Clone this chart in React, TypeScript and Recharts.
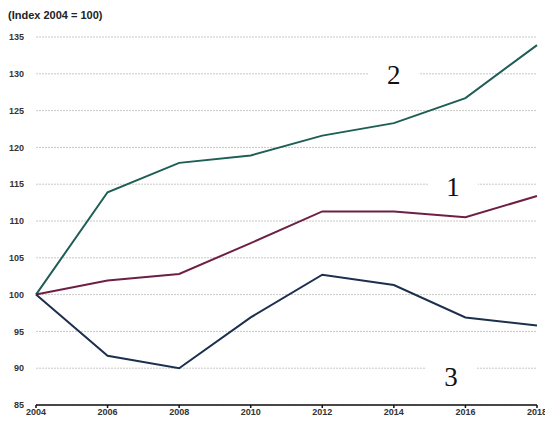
import { LineChart, Line, XAxis, YAxis, CartesianGrid, ReferenceDot } from 'recharts'

const YEARS = [2004, 2006, 2008, 2010, 2012, 2014, 2016, 2018]
const SERIES_1 = [100, 101.9, 102.8, 107.0, 111.3, 111.3, 110.5, 113.4]
const SERIES_2 = [100, 113.9, 117.9, 118.9, 121.6, 123.3, 126.7, 133.9]
const SERIES_3 = [100, 91.7, 90.0, 96.9, 102.7, 101.3, 96.9, 95.8]
const Y_TICKS = [85, 90, 95, 100, 105, 110, 115, 120, 125, 130, 135]

// curve numbers written on the chart
const NOTE_TEXT = ['2', '1', '3']
const NOTE_X = [2014.0, 2015.65, 2015.6]
const NOTE_Y = [129.9, 114.6, 88.8]

const TEAL   = '#1e5e57'
const MAROON = '#6e1f45'
const NAVY   = '#1c2f4f'

const tickStyle = { fontSize: 9, fill: '#333', fontFamily: 'Arial, "Liberation Sans", sans-serif', fontWeight: 700 }

const data = YEARS.map((y, i) => ({ y, s1: SERIES_1[i], s2: SERIES_2[i], s3: SERIES_3[i] }))

function Note({ cx, cy, text }: { cx?: number; cy?: number; text: string }) {
  if (cx == null || cy == null) return null
  return (
    <g>
      <rect x={cx - 25} y={cy - 14} width={50} height={28} fill="#fff" />
      <text x={cx} y={cy} textAnchor="middle" dominantBaseline="central"
        fontFamily='"Liberation Serif", "Times New Roman", serif' fontSize={27} fill="#111">
        {text}
      </text>
    </g>
  )
}

export default function App() {
  return (
    <div style={{ position: 'absolute', left: 0, top: 0, width: 545, height: 421, background: '#fff' }}>
      <div style={{ position: 'absolute', left: 8, top: 9, fontFamily: 'Arial, "Liberation Sans", sans-serif',
        fontSize: 11, fontWeight: 700, color: '#222' }}>
        (Index 2004 = 100)
      </div>
      <LineChart width={545} height={421} data={data} margin={{ top: 37, right: 8, bottom: 2, left: 0 }}>
        <CartesianGrid vertical={false} stroke="#c8c8c8" strokeDasharray="2 1" />
        <XAxis dataKey="y" type="number" domain={[2004, 2018]} ticks={YEARS} height={14}
          tick={tickStyle} tickSize={3} tickMargin={1} stroke="#111" strokeWidth={1.5} interval={0} />
        <YAxis type="number" domain={[85, 135]} ticks={Y_TICKS} width={36} interval={0}
          tick={tickStyle} axisLine={false} tickLine={false} tickMargin={6} />
        <Line type="linear" dataKey="s2" stroke={TEAL} strokeWidth={2} dot={false} isAnimationActive={false} />
        <Line type="linear" dataKey="s1" stroke={MAROON} strokeWidth={2} dot={false} isAnimationActive={false} />
        <Line type="linear" dataKey="s3" stroke={NAVY} strokeWidth={2} dot={false} isAnimationActive={false} />
        {NOTE_TEXT.map((t, i) => (
          <ReferenceDot key={t} x={NOTE_X[i]} y={NOTE_Y[i]} r={0} ifOverflow="visible"
            shape={(p: any) => <Note cx={p.cx} cy={p.cy} text={t} />} />
        ))}
      </LineChart>
    </div>
  )
}
